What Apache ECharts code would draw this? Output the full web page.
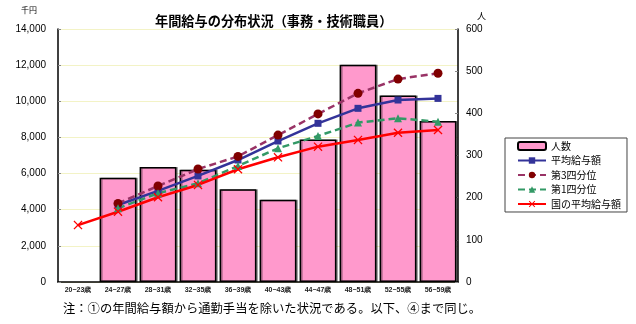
<!DOCTYPE html>
<html><head><meta charset="utf-8">
<script src="https://cdn.jsdelivr.net/npm/echarts@6/dist/echarts.min.js"></script>
<style>html,body{margin:0;padding:0;background:#fff}#c{width:636px;height:324px}</style>
</head><body><div id="c"></div>
<script>
const categories = ['20−23歳','24−27歳','28−31歳','32−35歳','36−39歳','40−43歳','44−47歳','48−51歳','52−55歳','56−59歳'];
const headcount = ['-',247,273,266,220,195,338,515,442,382];
const avgPay = ['-',4260,5040,5870,6750,7800,8780,9610,10070,10160];
const q3Pay = ['-',4350,5310,6250,6950,8130,9300,10440,11230,11550];
const q1Pay = ['-',4080,4910,5460,6420,7400,8080,8820,9060,8870];
const nationalPay = [3150,3890,4690,5370,6240,6900,7490,7860,8260,8410];
const leftTicks = {min:0,max:14000,interval:2000};
const rightTicks = {min:0,max:600,interval:100};

const font = 'Liberation Sans, Arial, sans-serif';
const jfont = '"Noto Sans CJK JP", sans-serif';
const xPath = 'path://M1,0 L5,4 L9,0 L10,1 L6,5 L10,9 L9,10 L5,6 L1,10 L0,9 L4,5 L0,1 Z';

const chart = echarts.init(document.getElementById('c'), null, {renderer:'canvas'});
chart.setOption({
  animation:false,
  backgroundColor:'#fff',
  title:{text:'年間給与の分布状況（事務・技術職員）',left:150,top:9,
    textStyle:{fontFamily:jfont,fontSize:13.2,fontWeight:'bold',color:'#000'}},
  graphic:[
    {type:'text',left:21,top:6,style:{text:'千円',font:'8px '+jfont,fill:'#000'}},
    {type:'text',left:477,top:11,style:{text:'人',font:'9px '+jfont,fill:'#000'}},
    {type:'text',left:63,top:302,style:{text:'注：①の年間給与額から通勤手当を除いた状況である。以下、④まで同じ。',font:'12.3px '+jfont,fill:'#000'}}
  ],
  grid:{left:58,right:178,top:29,bottom:42},
  legend:{orient:'vertical',left:505,top:138,width:122,height:75,
    padding:[3,6,3,12],itemGap:4.5,itemWidth:28,itemHeight:8,
    borderColor:'#444',borderWidth:1,
    textStyle:{fontFamily:jfont,fontSize:10,color:'#000'},
    data:['人数','平均給与額','第3四分位','第1四分位','国の平均給与額']},
  xAxis:{type:'category',data:categories,
    axisLine:{lineStyle:{color:'#000',width:1.5}},
    axisTick:{show:false},
    axisLabel:{fontFamily:font,fontSize:7,fontWeight:'bold',color:'#222',margin:5}},
  yAxis:[
    {type:'value',min:leftTicks.min,max:leftTicks.max,interval:leftTicks.interval,
     axisLine:{show:true,lineStyle:{color:'#000',width:1.5}},
     axisTick:{show:true,inside:true,length:3,lineStyle:{color:'#888'}},
     splitLine:{show:true,lineStyle:{color:'#f3f3c6',width:1}},
     axisLabel:{fontFamily:font,fontSize:10,color:'#000',margin:12,
       formatter:v=>v.toLocaleString('en-US')}},
    {type:'value',min:rightTicks.min,max:rightTicks.max,interval:rightTicks.interval,position:'right',
     axisLine:{show:true,lineStyle:{color:'#000',width:1.5}},
     axisTick:{show:true,inside:true,length:3,lineStyle:{color:'#888'}},
     splitLine:{show:false},
     axisLabel:{fontFamily:font,fontSize:10,color:'#000',margin:8}}
  ],
  series:[
    {name:'人数',type:'bar',yAxisIndex:1,data:headcount,barWidth:'92%',
     itemStyle:{color:'#ff99cc',borderColor:'#000',borderWidth:1.5,
       shadowColor:'rgba(0,0,0,0.35)',shadowOffsetX:1.5,shadowOffsetY:0,shadowBlur:0}},
    {name:'平均給与額',type:'line',data:avgPay,symbol:'rect',symbolSize:7,
     lineStyle:{color:'#333399',width:2.5},itemStyle:{color:'#333399'}},
    {name:'第3四分位',type:'line',data:q3Pay,symbol:'circle',symbolSize:9,
     lineStyle:{color:'#993366',width:2.5,type:[7,4]},itemStyle:{color:'#800000'}},
    {name:'第1四分位',type:'line',data:q1Pay,symbol:'triangle',symbolSize:8,
     lineStyle:{color:'#339966',width:2.5,type:[7,4]},itemStyle:{color:'#339966'}},
    {name:'国の平均給与額',type:'line',data:nationalPay,symbol:xPath,symbolSize:9,
     lineStyle:{color:'#ff0000',width:2.5},itemStyle:{color:'#ff0000'}}
  ]
});
</script></body></html>
